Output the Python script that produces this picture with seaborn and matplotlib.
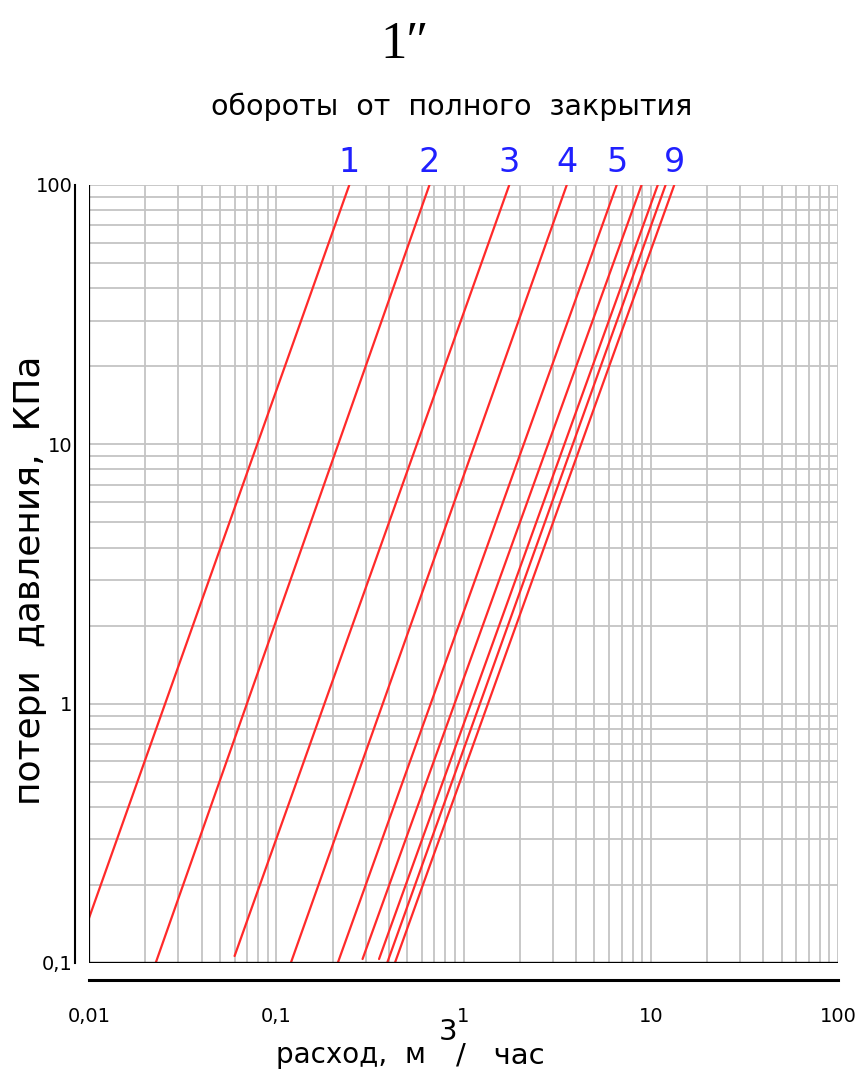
import matplotlib
matplotlib.use("Agg")
import matplotlib.pyplot as plt
from matplotlib.ticker import NullFormatter
import seaborn as sns
import pandas as pd

# обороты от полного закрытия -> отрезок прямой (лог-лог)
turns = [1, 2, 3, 4, 5, 6, 7, 8, 9]
q_start = [0.01, 0.0227, 0.0599, 0.1196, 0.213, 0.289, 0.354, 0.391, 0.430]
p_start = [0.149, 0.1, 0.1064, 0.1, 0.1, 0.1036, 0.1036, 0.1, 0.1]
q_end = [0.2455, 0.658, 1.755, 3.56, 6.58, 8.93, 10.9, 12.0, 13.35]
p_end = [100, 100, 100, 100, 100, 100, 100, 100, 100]
labelled = [1, 2, 3, 4, 5, 9]

x_ticks = [0.01, 0.1, 1, 10, 100]
x_labels = ["0,01", "0,1", "1", "10", "100"]
y_ticks = [0.1, 1, 10, 100]
y_labels = ["0,1", "1", "10", "100"]

rows = []
for t, q0, p0, q1, p1 in zip(turns, q_start, p_start, q_end, p_end):
    rows.append({"turn": t, "q": q0, "p": p0})
    rows.append({"turn": t, "q": q1, "p": p1})
df = pd.DataFrame(rows)

sns.set_theme(style="whitegrid")
plt.rcParams['font.family'] = ['DejaVu Sans']
plt.rcParams['text.color'] = 'black'

fig = plt.figure(figsize=(8.63, 10.77), dpi=100)
ax = fig.add_axes([89 / 863, 114 / 1077, 749 / 863, 778 / 1077])

sns.lineplot(data=df, x="q", y="p", units="turn", estimator=None,
             color="#ff2a2a", lw=1.6, ax=ax, zorder=3)

ax.set_xscale("log")
ax.set_yscale("log")
ax.set_xlim(0.01, 100)
ax.set_ylim(0.1, 100)

ax.grid(which="both", color="#c4c4c4", lw=1.3)
ax.set_xticks(x_ticks, x_labels)
ax.set_yticks(y_ticks, y_labels)
ax.xaxis.set_minor_formatter(NullFormatter())
ax.yaxis.set_minor_formatter(NullFormatter())
ax.tick_params(which="both", length=0)
ax.tick_params(axis="x", pad=20, labelsize=14, labelcolor="black")
ax.tick_params(axis="y", pad=2, labelsize=14, labelcolor="black")
ax.set_xlabel("")
ax.set_ylabel("")

for s in ["top", "right"]:
    ax.spines[s].set_visible(False)
ax.spines["left"].set_position(("outward", 10))
ax.spines["bottom"].set_position(("outward", 12))
ax.spines["left"].set_color("black")
ax.spines["left"].set_linewidth(1.5)
ax.spines["bottom"].set_color("black")
ax.spines["bottom"].set_linewidth(2.2)
ax.axvline(0.01, color="black", lw=1.6, zorder=4)
ax.axhline(0.1, color="black", lw=2.4, zorder=4)

for t, q1, p1 in zip(turns, q_end, p_end):
    if t in labelled:
        ax.annotate(str(t), (q1, p1), xytext=(0, 4), textcoords="offset points",
                    ha="center", va="bottom", fontsize=24, color="#2020ff")

fig.text(405 / 863, 1 - 45 / 1077, "1\u2033", ha="center", va="center",
         fontsize=38, family=["Liberation Serif", "DejaVu Serif"])
fig.text(452 / 863, 1 - 107 / 1077, "обороты  от  полного  закрытия",
         ha="center", va="center", fontsize=20.5)
fig.text(30 / 863, 1 - 580 / 1077, "потери  давления,  КПа", rotation=90,
         ha="center", va="center", fontsize=26)
fig.text(426 / 863, 1 - 1055 / 1077, "расход,  м", ha="right", va="center",
         fontsize=20)
fig.text(448 / 863, 1 - 1032 / 1077, "3", ha="center", va="center",
         fontsize=21)
fig.text(456 / 863, 1 - 1055 / 1077, "/   час", ha="left", va="center",
         fontsize=21)

fig.savefig("out.png", dpi=100)
